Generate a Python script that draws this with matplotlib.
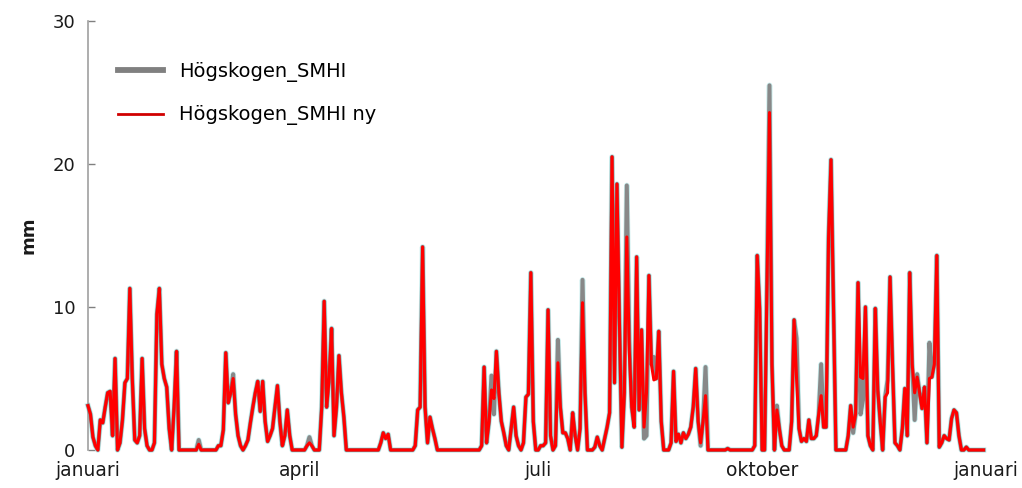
import numpy as np
import matplotlib
matplotlib.use("Agg")
import matplotlib.pyplot as plt

# daily precipitation (mm), one value per day of the year
smhi_ny = [
    3.1, 2.5, 0.9, 0.3, 0, 2.1, 1.9, 3.0, 4.0, 4.1,
    1.0, 6.4, 0, 0.5, 2.1, 4.7, 5.0, 11.3, 5.0, 0.7,
    0.5, 1.0, 6.4, 1.5, 0.3, 0, 0, 0.5, 9.5, 11.3,
    6.0, 5.0, 4.4, 1.5, 0, 3.0, 6.9, 0, 0, 0,
    0, 0, 0, 0, 0, 0.4, 0, 0, 0, 0,
    0, 0, 0, 0.3, 0.3, 1.4, 6.8, 3.3, 4.0, 5.0,
    2.5, 1.0, 0.3, 0, 0.3, 0.7, 1.9, 3.0, 4.0, 4.8,
    2.7, 4.8, 2.0, 0.6, 1.0, 1.5, 3.0, 4.5, 2.0, 0.3,
    1.0, 2.8, 1.0, 0, 0, 0, 0, 0, 0, 0.3,
    0.5, 0.3, 0, 0, 0, 3.0, 10.4, 3.0, 5.0, 8.5,
    1.0, 3.0, 6.6, 4.0, 2.3, 0, 0, 0, 0, 0,
    0, 0, 0, 0, 0, 0, 0, 0, 0, 0.5,
    1.2, 0.8, 1.1, 0, 0, 0, 0, 0, 0, 0,
    0, 0, 0, 0.3, 2.8, 3.0, 14.2, 3.0, 0.5, 2.3,
    1.5, 0.8, 0, 0, 0, 0, 0, 0, 0, 0,
    0, 0, 0, 0, 0, 0, 0, 0, 0, 0,
    0.3, 5.8, 0.5, 2.0, 4.2, 3.6, 6.9, 4.0, 2.0, 1.2,
    0.3, 0, 1.5, 3.0, 1.0, 0.3, 0, 0.5, 3.7, 3.9,
    12.4, 2.0, 0, 0, 0.3, 0.3, 0.5, 9.8, 1.0, 0,
    0.3, 6.1, 3.0, 1.2, 1.2, 0.8, 0, 2.6, 1.0, 0,
    1.5, 10.3, 4.0, 0, 0, 0, 0.2, 0.9, 0.3, 0,
    0.8, 1.6, 2.6, 20.5, 4.7, 18.6, 9.0, 0.2, 4.0, 14.9,
    7.0, 3.0, 1.6, 13.5, 2.8, 8.4, 1.6, 4.0, 12.2, 6.0,
    4.9, 5.0, 8.3, 2.0, 0, 0, 0, 0.5, 5.5, 0.6,
    1.1, 0.5, 1.2, 0.8, 1.1, 1.6, 3.0, 5.7, 2.0, 0.5,
    2.0, 3.8, 0, 0, 0, 0, 0, 0, 0, 0,
    0.1, 0, 0, 0, 0, 0, 0, 0, 0, 0,
    0, 0.3, 13.6, 9.9, 0, 0, 12.0, 23.6, 6.0, 0,
    2.8, 1.5, 0.3, 0, 0, 0, 2.0, 9.1, 5.0, 1.5,
    0.6, 0.8, 0.6, 2.1, 0.8, 0.8, 1.0, 2.5, 3.8, 1.6,
    1.6, 14.8, 20.3, 10.0, 0, 0, 0, 0, 0, 1.0,
    3.1, 1.6, 2.5, 11.7, 5.1, 5.0, 10.0, 1.0, 0.3, 0,
    9.9, 4.2, 2.0, 0, 3.7, 4.0, 12.1, 6.0, 0.5, 0.3,
    0, 1.5, 4.3, 1.0, 12.4, 6.0, 4.0, 5.1, 4.0, 2.9,
    4.4, 0.5, 5.0, 5.1, 6.0, 13.6, 0.2, 0.5, 1.0, 0.8,
    0.7, 2.2, 2.8, 2.6, 1.0, 0, 0, 0.2, 0, 0,
    0, 0, 0, 0, 0,
]

smhi = [
    3.1, 2.5, 0.9, 0.3, 0, 2.1, 1.9, 3.0, 4.0, 4.1,
    1.0, 6.4, 0, 0.5, 2.1, 4.7, 5.0, 11.3, 5.0, 0.7,
    0.5, 1.0, 6.4, 1.5, 0.3, 0, 0, 0.5, 9.5, 11.3,
    6.0, 5.0, 4.4, 1.5, 0, 3.0, 6.9, 0, 0, 0,
    0, 0, 0, 0, 0, 0.7, 0, 0, 0, 0,
    0, 0, 0, 0.3, 0.3, 1.4, 6.8, 3.3, 4.0, 5.3,
    2.5, 1.0, 0.3, 0, 0.3, 0.7, 1.9, 3.0, 4.0, 4.8,
    2.7, 4.8, 2.0, 0.6, 1.0, 1.5, 3.0, 4.5, 2.0, 0.3,
    1.0, 2.8, 1.0, 0, 0, 0, 0, 0, 0, 0.3,
    0.9, 0.3, 0, 0, 0, 3.0, 10.4, 3.0, 5.0, 8.5,
    1.0, 3.0, 6.6, 4.0, 2.3, 0, 0, 0, 0, 0,
    0, 0, 0, 0, 0, 0, 0, 0, 0, 0.5,
    1.2, 0.8, 1.1, 0, 0, 0, 0, 0, 0, 0,
    0, 0, 0, 0.3, 2.8, 3.0, 14.2, 3.0, 0.5, 2.3,
    1.5, 0.8, 0, 0, 0, 0, 0, 0, 0, 0,
    0, 0, 0, 0, 0, 0, 0, 0, 0, 0,
    0.3, 5.8, 0.5, 2.0, 5.2, 2.5, 6.9, 4.0, 2.0, 1.2,
    0.3, 0, 1.5, 3.0, 1.0, 0.3, 0, 0.5, 3.7, 3.9,
    12.4, 2.0, 0, 0, 0.3, 0.3, 0.5, 9.8, 1.0, 0,
    0.3, 7.7, 3.0, 1.2, 1.2, 0.8, 0, 2.6, 1.0, 0,
    1.5, 11.9, 4.0, 0, 0, 0, 0.2, 0.9, 0.3, 0,
    0.8, 1.6, 2.6, 20.5, 4.7, 18.6, 9.0, 0.2, 4.0, 18.5,
    7.7, 3.0, 1.6, 13.5, 2.8, 8.4, 0.8, 1.0, 12.2, 6.0,
    6.5, 5.0, 8.3, 2.0, 0, 0, 0, 0.5, 5.5, 0.6,
    1.1, 0.5, 1.2, 0.8, 1.1, 1.6, 3.0, 5.7, 2.0, 0.3,
    2.0, 5.8, 0, 0, 0, 0, 0, 0, 0, 0,
    0.1, 0, 0, 0, 0, 0, 0, 0, 0, 0,
    0, 0.3, 13.6, 9.9, 0, 0, 12.0, 25.5, 6.0, 0,
    3.1, 1.5, 0.3, 0, 0, 0, 2.0, 9.1, 7.8, 1.5,
    0.6, 0.8, 0.6, 2.1, 0.8, 0.8, 1.0, 2.5, 6.0, 1.6,
    1.6, 14.8, 20.3, 10.0, 0, 0, 0, 0, 0, 1.0,
    3.1, 1.2, 2.5, 11.7, 2.5, 3.5, 10.0, 1.0, 0.3, 0,
    9.9, 4.2, 2.0, 0, 3.7, 4.9, 12.1, 6.0, 0.5, 0.3,
    0, 1.5, 4.3, 1.0, 12.4, 6.0, 2.1, 5.3, 4.0, 2.9,
    4.4, 0.5, 7.5, 5.1, 6.0, 13.6, 0.2, 0.5, 1.0, 0.8,
    0.7, 2.2, 2.8, 2.6, 1.0, 0, 0, 0.2, 0, 0,
    0, 0, 0, 0, 0,
]

month_labels = ["januari", "april", "juli", "oktober", "januari"]
month_pos = [0, 86, 183, 274, 365]
y_ticks = [0, 10, 20, 30]
series_names = ["Högskogen_SMHI", "Högskogen_SMHI ny"]

W, H = 1022, 488
fig = plt.figure(figsize=(W / 100, H / 100), dpi=100)
ax = fig.add_axes([88 / W, 38 / H, 898 / W, 429 / H])

x_gray = np.arange(len(smhi))
x_red = np.arange(len(smhi_ny))

ax.plot(x_gray, smhi, color="#a8e4e4", lw=4.0, alpha=0.6, clip_on=False,
        solid_joinstyle="round", zorder=2)
ax.plot(x_gray, smhi, color="#888888", lw=2.9, clip_on=False,
        solid_joinstyle="round", zorder=3)
ax.plot(x_red, smhi_ny, color="#ff0000", lw=2.2, clip_on=False,
        solid_joinstyle="round", zorder=4)

ax.set_xlim(0, 365)
ax.set_ylim(0, 30)

for s in ["top", "right", "bottom"]:
    ax.spines[s].set_visible(False)
ax.spines["left"].set_color("#a0a0a0")
ax.spines["left"].set_linewidth(1.2)

ax.set_yticks(y_ticks)
ax.set_yticklabels([str(v) for v in y_ticks])
ax.set_xticks(month_pos)
ax.set_xticklabels(month_labels)
ax.tick_params(axis="y", direction="in", length=5, width=1, color="#808080",
               pad=9, labelsize=13, labelcolor="#1a1a1a")
ax.tick_params(axis="x", length=0, pad=8, labelsize=13.5, labelcolor="#1a1a1a")

ax.set_ylabel("mm", fontsize=13, fontweight="bold", color="#1a1a1a")
ax.yaxis.set_label_coords(-50 / 898, 0.5)

leg_g = matplotlib.lines.Line2D([], [], color="#808080", lw=4.2)
leg_r = matplotlib.lines.Line2D([], [], color="#d00000", lw=2.0)
ax.legend([leg_g, leg_r], series_names, loc="upper left",
          bbox_to_anchor=(118 / W, 1 - 62 / H), bbox_transform=fig.transFigure,
          frameon=False, borderpad=0, borderaxespad=0, handlelength=2.3,
          handletextpad=0.85, labelspacing=1.2, fontsize=14)

fig.savefig("out.png", dpi=100)
